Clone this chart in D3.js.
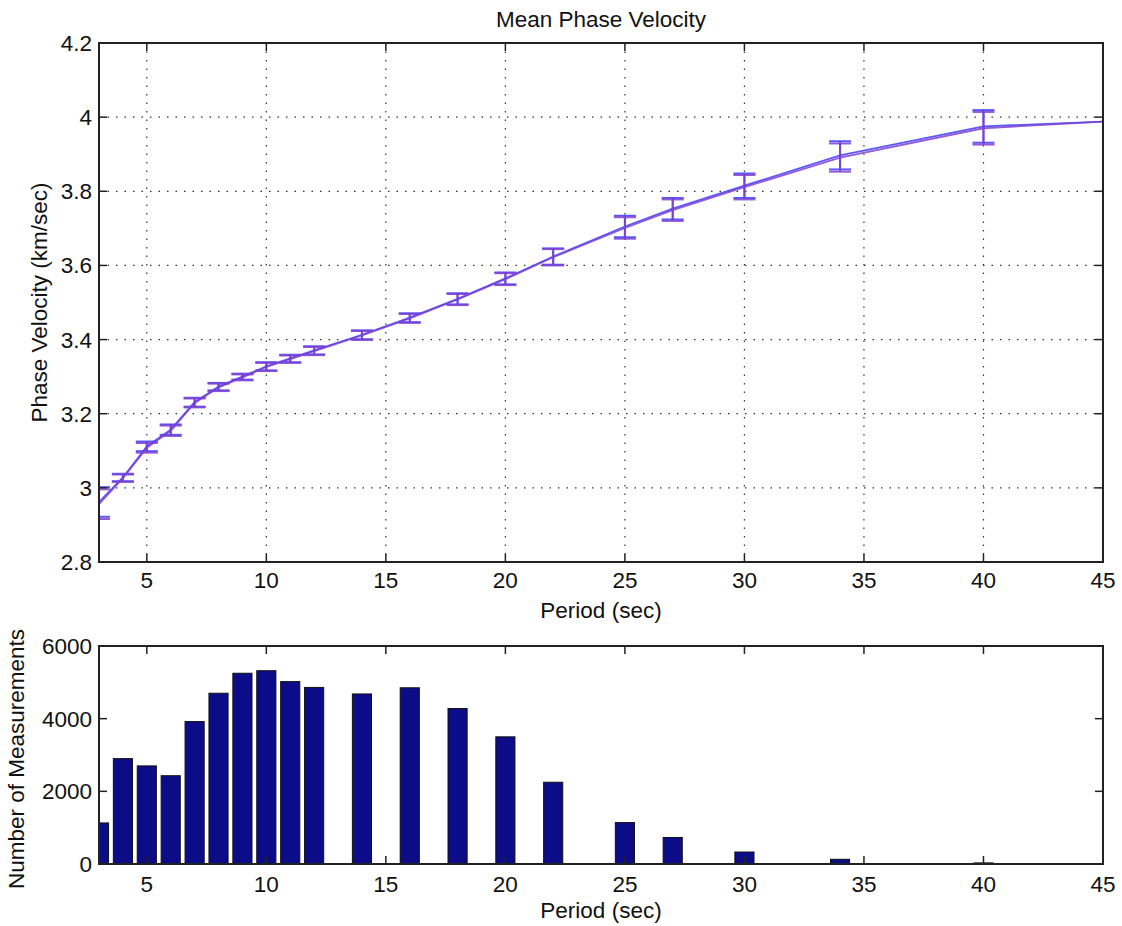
<!DOCTYPE html>
<html>
<head>
<meta charset="utf-8">
<script src="https://cdn.jsdelivr.net/npm/d3@7"></script>
<style>
body{margin:0;background:#fff;}
text{font-family:"Liberation Sans",Arial,sans-serif;fill:#111;}
</style>
</head>
<body>
<div class="box"></div>
<script>
// data
const periods=[3,4,5,6,7,8,9,10,11,12,14,16,18,20,22,25,27,30,34,40];
const velBlue=[2.962,3.028,3.112,3.157,3.231,3.273,3.300,3.328,3.349,3.371,3.413,3.459,3.510,3.565,3.624,3.705,3.753,3.815,3.897,3.975];
const velPurple=[2.956,3.026,3.108,3.154,3.229,3.271,3.298,3.326,3.347,3.369,3.411,3.457,3.508,3.563,3.622,3.701,3.749,3.811,3.891,3.970];
const errVel=[0.040,0.010,0.013,0.014,0.012,0.010,0.008,0.011,0.010,0.011,0.012,0.012,0.015,0.016,0.022,0.029,0.029,0.033,0.038,0.044];
const endPeriod=45, endVel=3.988;
const counts=[1130,2900,2700,2430,3920,4700,5250,5320,5020,4860,4680,4850,4280,3500,2250,1140,730,330,130,30];
const xTicks=[5,10,15,20,25,30,35,40,45];
const yTicksVel=[2.8,3,3.2,3.4,3.6,3.8,4,4.2];
const yTicksCnt=[0,2000,4000,6000];

const W=1122,H=926;
const svg=d3.select('.box').append('svg').attr('width',W).attr('height',H).style('background','white');

const L=99,R=1103;
const top1=43,bot1=562;
const top2=646,bot2=864;

const x=d3.scaleLinear().domain([3,45]).range([L,R]);
const y1=d3.scaleLinear().domain([2.8,4.2]).range([bot1,top1]);
const y2=d3.scaleLinear().domain([0,6000]).range([bot2,top2]);

const defs=svg.append('defs');
defs.append('clipPath').attr('id','c1').append('rect').attr('x',L).attr('y',top1).attr('width',R-L).attr('height',bot1-top1);
defs.append('clipPath').attr('id','c2').append('rect').attr('x',L).attr('y',top2).attr('width',R-L).attr('height',bot2-top2);

const fs=22.5;

// ---------- upper panel ----------
const g1=svg.append('g');
// dotted grid
g1.append('g').selectAll('line').data(xTicks.slice(0,-1)).enter().append('line')
  .attr('x1',d=>x(d)).attr('x2',d=>x(d)).attr('y1',top1).attr('y2',bot1)
  .attr('stroke','#333').attr('stroke-width',1.2).attr('stroke-dasharray','1.5,7');
g1.append('g').selectAll('line').data(yTicksVel.slice(1,-1)).enter().append('line')
  .attr('x1',L).attr('x2',R).attr('y1',d=>y1(d)).attr('y2',d=>y1(d))
  .attr('stroke','#333').attr('stroke-width',1.2).attr('stroke-dasharray','1.5,7');

const plot1=g1.append('g').attr('clip-path','url(#c1)');
const series=[
  {vals:velBlue,col:'#3d3cf5'},
  {vals:velPurple,col:'#8040d0'}
];
const cap=11;
series.forEach(s=>{
  const pts=periods.map((p,i)=>[p,s.vals[i]]).concat([[endPeriod,endVel]]);
  plot1.append('path').datum(pts)
    .attr('d',d3.line().x(d=>x(d[0])).y(d=>y1(d[1])))
    .attr('fill','none').attr('stroke',s.col).attr('stroke-width',1.8).attr('stroke-opacity',0.85);
  const eb=plot1.append('g').attr('stroke',s.col).attr('stroke-width',2).attr('stroke-opacity',0.85);
  periods.forEach((p,i)=>{
    const v=s.vals[i],e=errVel[i];
    eb.append('line').attr('x1',x(p)).attr('x2',x(p)).attr('y1',y1(v-e)).attr('y2',y1(v+e));
    eb.append('line').attr('x1',x(p)-cap).attr('x2',x(p)+cap).attr('y1',y1(v+e)).attr('y2',y1(v+e));
    eb.append('line').attr('x1',x(p)-cap).attr('x2',x(p)+cap).attr('y1',y1(v-e)).attr('y2',y1(v-e));
  });
});

function frame(g,yTop,yBot,yScale,yTicks,fmt,lblOff,titleOff){
  const tl=8;
  g.append('rect').attr('x',L).attr('y',yTop).attr('width',R-L).attr('height',yBot-yTop)
    .attr('fill','none').attr('stroke','#222').attr('stroke-width',2);
  const t=g.append('g').attr('stroke','#222').attr('stroke-width',1.5);
  xTicks.slice(0,-1).forEach(v=>{
    t.append('line').attr('x1',x(v)).attr('x2',x(v)).attr('y1',yBot).attr('y2',yBot-tl);
    t.append('line').attr('x1',x(v)).attr('x2',x(v)).attr('y1',yTop).attr('y2',yTop+tl);
  });
  yTicks.forEach(v=>{
    t.append('line').attr('x1',L).attr('x2',L+tl).attr('y1',yScale(v)).attr('y2',yScale(v));
    t.append('line').attr('x1',R).attr('x2',R-tl).attr('y1',yScale(v)).attr('y2',yScale(v));
  });
  g.append('g').selectAll('text').data(xTicks).enter().append('text')
    .attr('x',d=>x(d)).attr('y',yBot+lblOff).attr('text-anchor','middle').attr('font-size',fs).text(d=>d);
  g.append('g').selectAll('text').data(yTicks).enter().append('text')
    .attr('x',L-7).attr('y',d=>yScale(d)+8).attr('text-anchor','end').attr('font-size',fs).text(fmt);
  g.append('text').attr('x',x(24)).attr('y',yBot+titleOff).attr('text-anchor','middle').attr('font-size',fs).text('Period (sec)');
}
frame(g1,top1,bot1,y1,yTicksVel,d=>d3.format('~g')(d),26,56);
g1.append('text').attr('x',x(24)).attr('y',27).attr('text-anchor','middle').attr('font-size',fs).text('Mean Phase Velocity');
g1.append('text').attr('transform',`translate(47,${(top1+bot1)/2}) rotate(-90)`).attr('text-anchor','middle')
  .attr('font-size',fs).text('Phase Velocity (km/sec)');

// ---------- lower panel ----------
const g2=svg.append('g');
const plot2=g2.append('g').attr('clip-path','url(#c2)');
const bw=x(3.4)-x(3);
plot2.selectAll('rect').data(periods).enter().append('rect')
  .attr('x',d=>x(d)-bw).attr('width',bw*2)
  .attr('y',(d,i)=>y2(counts[i])).attr('height',(d,i)=>bot2-y2(counts[i]))
  .attr('fill','#0c0c88').attr('stroke','#111').attr('stroke-width',1);
frame(g2,top2,bot2,y2,yTicksCnt,d=>d,28,54);
g2.append('text').attr('transform',`translate(24,${(top2+bot2)/2+4}) rotate(-90)`).attr('text-anchor','middle')
  .attr('font-size',fs).text('Number of Measurements');
</script>
</body>
</html>
